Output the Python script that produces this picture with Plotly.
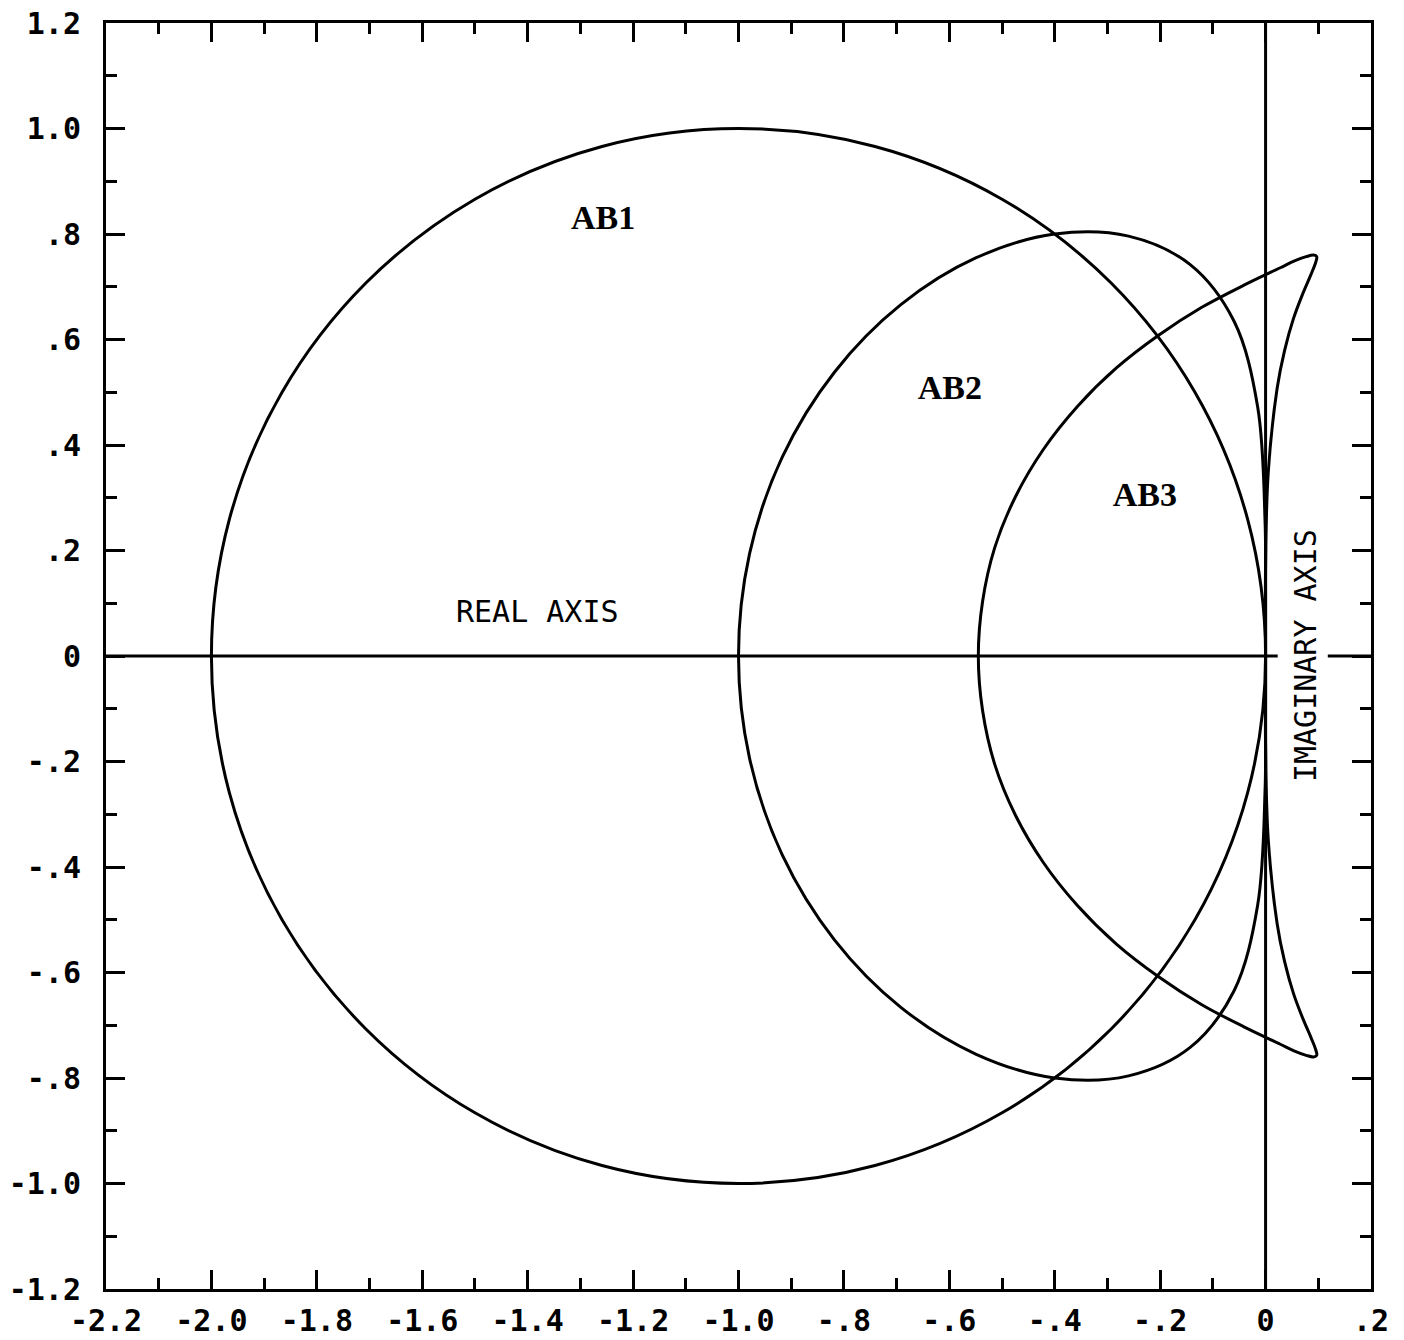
import plotly.graph_objects as go

# ---- data ----
ab1_re = [0.000, -0.034, -0.134, -0.293, -0.500, -0.741, -1.000, -1.259, -1.500, -1.707, -1.866, -1.966, -2.000,
          -1.966, -1.866, -1.707, -1.500, -1.259, -1.000, -0.741, -0.500, -0.293, -0.134, -0.034, 0.000]
ab1_im = [0.000, 0.259, 0.500, 0.707, 0.866, 0.966, 1.000, 0.966, 0.866, 0.707, 0.500, 0.259, 0.000,
          -0.259, -0.500, -0.707, -0.866, -0.966, -1.000, -0.966, -0.866, -0.707, -0.500, -0.259, 0.000]

ab2_re = [0.000, 0.000, -0.001, -0.015, -0.060, -0.143, -0.260, -0.400, -0.549, -0.692, -0.818, -0.917, -0.979, -1.000,
          -0.979, -0.917, -0.818, -0.692, -0.549, -0.400, -0.260, -0.143, -0.060, -0.015, -0.001, 0.000, 0.000]
ab2_im = [0.000, 0.130, 0.255, 0.472, 0.635, 0.742, 0.796, 0.800, 0.755, 0.666, 0.538, 0.377, 0.194, 0.000,
          -0.194, -0.377, -0.538, -0.666, -0.755, -0.800, -0.796, -0.742, -0.635, -0.472, -0.255, -0.130, 0.000]

ab3_re = [0.000, 0.000, 0.005, 0.022, 0.036, 0.053, 0.071, 0.086, 0.095, 0.097, 0.091, 0.077, 0.055, 0.028,
          -0.041, -0.121, -0.203, -0.283, -0.357, -0.422, -0.475, -0.514, -0.537, -0.545,
          -0.537, -0.514, -0.475, -0.422, -0.357, -0.283, -0.203, -0.121, -0.041,
          0.028, 0.055, 0.077, 0.091, 0.097, 0.095, 0.086, 0.071, 0.053, 0.036, 0.022, 0.005, 0.000, 0.000]
ab3_im = [0.000, 0.174, 0.347, 0.508, 0.579, 0.640, 0.688, 0.723, 0.746, 0.757, 0.760, 0.757, 0.749, 0.736,
          0.703, 0.661, 0.608, 0.546, 0.473, 0.391, 0.301, 0.205, 0.103, 0.000,
          -0.103, -0.205, -0.301, -0.391, -0.473, -0.546, -0.608, -0.661, -0.703,
          -0.736, -0.749, -0.757, -0.760, -0.757, -0.746, -0.723, -0.688, -0.640, -0.579, -0.508, -0.347, -0.174, 0.000]

x_tickvals = [-2.2, -2.0, -1.8, -1.6, -1.4, -1.2, -1.0, -0.8, -0.6, -0.4, -0.2, 0.0, 0.2]
x_ticktext = ["-2.2", "-2.0", "-1.8", "-1.6", "-1.4", "-1.2", "-1.0", "-.8", "-.6", "-.4", "-.2", "0", ".2"]
y_tickvals = [1.2, 1.0, 0.8, 0.6, 0.4, 0.2, 0.0, -0.2, -0.4, -0.6, -0.8, -1.0, -1.2]
y_ticktext = ["1.2", "1.0", ".8", ".6", ".4", ".2", "0", "-.2", "-.4", "-.6", "-.8", "-1.0", "-1.2"]

curve_labels = ["AB1", "AB2", "AB3"]
curve_label_x = [-1.257, -0.599, -0.229]
curve_label_y = [0.825, 0.504, 0.300]

# ---- figure ----
LW = 3.0
fig = go.Figure()
for xs, ys in [(ab1_re, ab1_im), (ab2_re, ab2_im), (ab3_re, ab3_im)]:
    fig.add_trace(go.Scatter(x=xs, y=ys, mode="lines",
                             line=dict(color="black", width=LW, shape="spline", smoothing=1.0),
                             hoverinfo="skip", showlegend=False))

fig.add_trace(go.Scatter(x=curve_label_x, y=curve_label_y, mode="text", text=curve_labels,
                         textfont=dict(family="Liberation Serif", size=34, color="black"),
                         texttemplate="<b>%{text}</b>", showlegend=False, hoverinfo="skip"))

# coordinate axes drawn inside the frame
fig.add_shape(type="line", xref="x", yref="y", x0=-2.2, x1=0.023, y0=0, y1=0,
              line=dict(color="black", width=LW))
fig.add_shape(type="line", xref="x", yref="y", x0=0, x1=0, y0=-1.2, y1=1.2,
              line=dict(color="black", width=LW))
fig.add_shape(type="line", xref="x", yref="y", x0=0.118, x1=0.2, y0=0, y1=0,
              line=dict(color="black", width=LW))

mono = "DejaVu Sans Mono"
fig.add_annotation(x=-1.381, y=0.085, text="REAL AXIS", showarrow=False,
                   font=dict(family=mono, size=30, color="black"))
fig.add_annotation(x=0.075, y=0.0, text="IMAGINARY AXIS", showarrow=False, textangle=-90,
                   font=dict(family=mono, size=30, color="black"))

axis_common = dict(showgrid=False, zeroline=False, showline=True, linecolor="black", linewidth=3,
                   mirror="ticks", ticks="inside", ticklen=19, tickwidth=2.8, tickcolor="black",
                   automargin=False,
                   tickfont=dict(family=mono, size=30, color="black", weight="bold"))

fig.update_xaxes(range=[-2.2, 0.2], tickvals=x_tickvals, ticktext=x_ticktext,
                 minor=dict(tickmode="linear", tick0=-2.1, dtick=0.2, ticks="inside", ticklen=11,
                            tickwidth=2.8, tickcolor="black", showgrid=False),
                 ticklabelstandoff=3, **axis_common)
fig.update_yaxes(range=[-1.2, 1.2], tickvals=y_tickvals, ticktext=y_ticktext,
                 minor=dict(tickmode="linear", tick0=-1.1, dtick=0.2, ticks="inside", ticklen=11,
                            tickwidth=2.8, tickcolor="black", showgrid=False),
                 ticklabelstandoff=16, **axis_common)

fig.update_layout(width=1404, height=1340, margin=dict(l=106, r=33, t=23, b=51),
                  plot_bgcolor="white", paper_bgcolor="white", showlegend=False)

fig.write_html("out.html")
